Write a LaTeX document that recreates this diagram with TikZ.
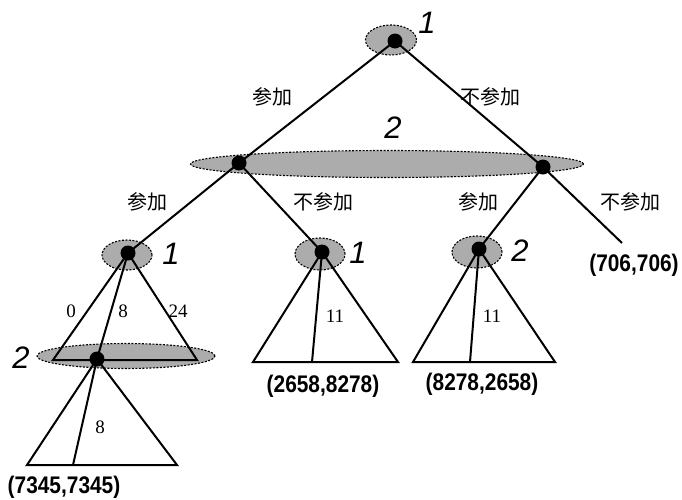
\documentclass[tikz,border=0pt]{standalone}
\usepackage{fontspec}
\usepackage{graphicx}
\usetikzlibrary{shapes.geometric}
\setmainfont{Liberation Serif}
\newfontfamily\lab{Liberation Sans}
\newfontfamily\cjk{Noto Sans CJK SC}
\newcommand\payoff[1]{\scalebox{0.87}[1]{#1}}
\begin{document}
\begin{tikzpicture}[x=1pt,y=-1pt,
  infoset/.style={ellipse,fill=gray!65,draw=black,line width=1.1pt,dash pattern=on 2pt off 1.5pt,inner sep=0pt},
  dec/.style={circle,fill=black,minimum size=15pt,inner sep=0pt},
  edge/.style={line width=2pt},
  plab/.style={font=\lab\itshape\fontsize{31}{31}\selectfont},
  clab/.style={font=\cjk\fontsize{20}{20}\selectfont},
  nlab/.style={font=\fontsize{19}{19}\selectfont},
  pay/.style={font=\lab\bfseries\fontsize{24}{24}\selectfont}]
\useasboundingbox (0,0) rectangle (682,499);
% information sets
\node[infoset,minimum width=51pt,minimum height=30pt] (e0) at (391,40) {};
\node[infoset,minimum width=393pt,minimum height=27pt] (e1) at (387,164) {};
\node[infoset,minimum width=50pt,minimum height=30pt] (eA) at (127,255) {};
\node[infoset,minimum width=50pt,minimum height=32pt] (eB) at (320,254) {};
\node[infoset,minimum width=50pt,minimum height=32pt] (eC) at (477,252) {};
\node[infoset,minimum width=178pt,minimum height=25pt] (eD) at (126,356) {};
% coordinates
\coordinate (r) at (395,41);
\coordinate (L) at (239,163);
\coordinate (R) at (543,167);
\coordinate (A) at (128,253);
\coordinate (B) at (322,252);
\coordinate (C) at (479,249);
\coordinate (D) at (97,359);
\coordinate (leaf) at (622,243);
\coordinate (a1) at (53,360); \coordinate (a2) at (197,360);
\coordinate (d1) at (27,465); \coordinate (d2) at (177,465); \coordinate (dm) at (73,465);
\coordinate (b1) at (253,362); \coordinate (b2) at (398,362); \coordinate (bm) at (312,362);
\coordinate (c1) at (413,362); \coordinate (c2) at (555,362); \coordinate (cm) at (470,362);
% edges
\draw[edge] (L) -- (r) -- (R);
\draw[edge] (A) -- (L) -- (B);
\draw[edge] (C) -- (R) -- (leaf);
\draw[edge] (A) -- (a1) -- (a2) -- cycle;
\draw[edge] (A) -- (D);
\draw[edge] (D) -- (d1) -- (d2) -- cycle;
\draw[edge] (D) -- (dm);
\draw[edge] (B) -- (b1) -- (b2) -- cycle;
\draw[edge] (B) -- (bm);
\draw[edge] (C) -- (c1) -- (c2) -- cycle;
\draw[edge] (C) -- (cm);
% decision nodes
\node[dec] (nr) at (r) {};
\node[dec] (nL) at (L) {};
\node[dec] (nR) at (R) {};
\node[dec] (nA) at (A) {};
\node[dec] (nB) at (B) {};
\node[dec] (nC) at (C) {};
\node[dec] (nD) at (D) {};
% player labels
\node[plab] (p0) at (427,23) {1};
\node[plab] (p1) at (393,128) {2};
\node[plab] (pA) at (171,254) {1};
\node[plab] (pB) at (358,253) {1};
\node[plab] (pC) at (520,251) {2};
\node[plab] (pD) at (21,358) {2};
% action labels
\node[clab] (t1) at (272,97) {参加};
\node[clab] (t2) at (490,97) {不参加};
\node[clab] (t3) at (147,202) {参加};
\node[clab] (t4) at (323,202) {不参加};
\node[clab] (t5) at (478,202) {参加};
\node[clab] (t6) at (630,202) {不参加};
% numbers
\node[nlab] (n0) at (71,311) {0};
\node[nlab] (n8) at (123,311) {8};
\node[nlab] (n24) at (178,311) {24};
\node[nlab] (n8b) at (100,427) {8};
\node[nlab] (n11a) at (335,316) {11};
\node[nlab] (n11b) at (492,316) {11};
% payoffs
\node[pay] (q1) at (64,487) {\payoff{(7345,7345)}};
\node[pay] (q2) at (323,386) {\payoff{(2658,8278)}};
\node[pay] (q3) at (482,384) {\payoff{(8278,2658)}};
\node[pay] (q4) at (634,265) {\payoff{(706,706)}};
\end{tikzpicture}
\end{document}
